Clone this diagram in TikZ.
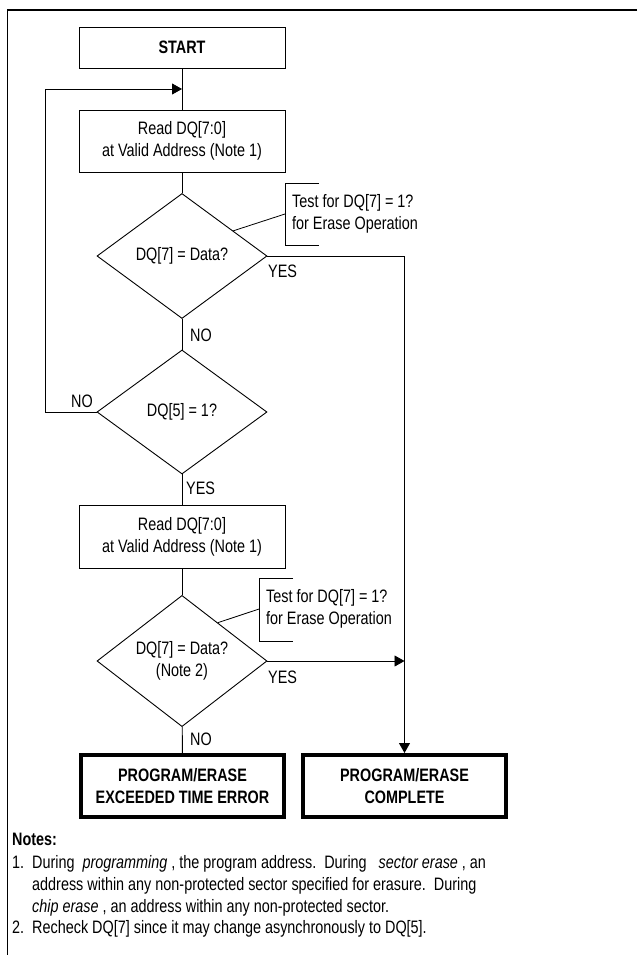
\documentclass[tikz,border=0pt]{standalone}
\usepackage{fontspec}
\setmainfont{Liberation Sans}[FakeStretch=0.8]
\usetikzlibrary{shapes.geometric,arrows.meta,calc}
\tikzset{
  stepbox/.style={draw,line width=0.9pt,minimum width=206pt,minimum height=62pt,align=center,inner sep=0pt},
  test/.style={draw,diamond,line width=0.9pt,minimum width=170pt,minimum height=124pt,align=center,inner sep=0pt},
  endbox/.style={draw,line width=4pt,minimum width=203pt,minimum height=62pt,align=center,font=\fontsize{18}{22}\selectfont\bfseries,inner sep=0pt},
  flow/.style={line width=0.9pt,-{Triangle[length=10pt,width=11pt]}},
  lbl/.style={inner sep=0pt,anchor=west},
  noteline/.style={inner sep=0pt,anchor=base west}
}
\begin{document}
\begin{tikzpicture}[x=1pt,y=-1pt,font=\fontsize{18}{22}\selectfont]
\useasboundingbox (0,0) rectangle (637,955);
\draw[line width=1.4pt] (637,10) -- (7.5,10) -- (7.5,955);

% flow steps
\node[stepbox,minimum height=41pt,font=\fontsize{18}{22}\selectfont\bfseries] (start) at (182,47.5) {START};
\node[stepbox] (read1) at (182,141) {Read DQ[7:0]\\at Valid Address (Note 1)};
\node[test,minimum height=125pt] (dq7a) at (182,256) {DQ[7] = Data?};
\node[test] (dq5) at (182,412) {DQ[5] = 1?};
\node[stepbox,minimum height=63pt] (read2) at (182,536.5) {Read DQ[7:0]\\at Valid Address (Note 1)};
\node[test] (dq7b) at (182,661) {DQ[7] = Data?\\(Note 2)};
\node[endbox] (err) at (182.5,786) {PROGRAM/ERASE\\EXCEEDED TIME ERROR};
\node[endbox] (done) at (404.5,786) {PROGRAM/ERASE\\COMPLETE};

% side notes
\node[lbl,align=left] (note1) at (292,214) {Test for DQ[7] = 1?\\for Erase Operation};
\node[lbl,align=left] (note2) at (266,609) {Test for DQ[7] = 1?\\for Erase Operation};
\coordinate (n1) at (285,214);
\coordinate (n2) at (259,609);
\draw[line width=0.8pt] (319,183) -- (285,183) -- (285,245) -- (319,245);
\draw[line width=0.8pt] (293,578) -- (259,578) -- (259,641) -- (293,641);
\draw[line width=0.8pt] (n1) -- ($(dq7a.north)!0.6!(dq7a.east)$);
\draw[line width=0.8pt] (n2) -- ($(dq7b.north)!0.42!(dq7b.east)$);

% connectors
\coordinate (join) at (182,89);
\coordinate (back) at (45,89);
\draw[line width=0.9pt] (start) -- (read1);
\draw[flow] (dq5.west) -| (back) -- (join);
\draw[line width=0.9pt] (read1) -- (dq7a);
\draw[line width=0.9pt] (dq7a) -- (dq5);
\draw[line width=0.9pt] (dq5) -- (read2);
\draw[line width=0.9pt] (read2) -- (dq7b);
\draw[line width=0.9pt] (dq7b) -- (err);
\draw[flow] (dq7a.east) -| (done.north);
\draw[flow] (dq7b.east) -- (dq7b.east -| done.north);

\node[lbl] at (268,271) {YES};
\node[lbl] at (190,335) {NO};
\node[lbl] at (71,401) {NO};
\node[lbl] at (186,488) {YES};
\node[lbl] at (268,677) {YES};
\node[lbl] at (190,739) {NO};

% notes
\node[noteline,font=\fontsize{18}{22}\selectfont\bfseries] at (12,845) {Notes:};
\node[noteline] at (12,868) {1.};
\node[noteline] at (32,868) {During \ \textit{programming} , the program address.\ \ During \ \ \textit{sector erase} , an};
\node[noteline] at (32,890) {address within any non-protected sector specified for erasure.\ \ During};
\node[noteline] at (32,912) {\textit{chip erase} , an address within any non-protected sector.};
\node[noteline] at (12,933) {2.};
\node[noteline] at (32,933) {Recheck DQ[7] since it may change asynchronously to DQ[5].};
\end{tikzpicture}
\end{document}
